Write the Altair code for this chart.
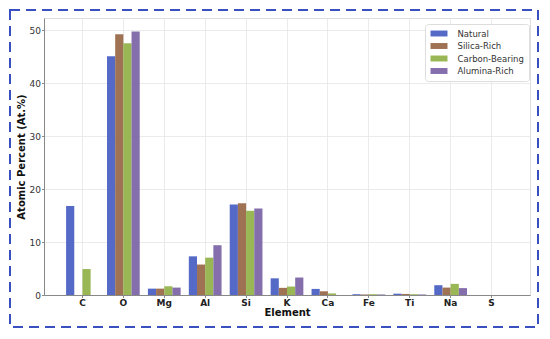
import altair as alt
import pandas as pd

elements = ["C", "O", "Mg", "Al", "Si", "K", "Ca", "Fe", "Ti", "Na", "S"]
series = ["Natural", "Silica-Rich", "Carbon-Bearing", "Alumina-Rich"]
colors = ["#4c62c4", "#9a6a4a", "#94b44c", "#7d66a8"]

natural = [16.8, 45.1, 1.2, 7.3, 17.1, 3.15, 1.15, 0.15, 0.25, 1.85, 0.0]
silica_rich = [0.0, 49.25, 1.2, 5.75, 17.3, 1.35, 0.7, 0.1, 0.2, 1.4, 0.0]
carbon_bearing = [4.9, 47.55, 1.65, 7.05, 15.9, 1.6, 0.3, 0.15, 0.15, 2.1, 0.0]
alumina_rich = [0.0, 49.75, 1.4, 9.4, 16.35, 3.3, 0.0, 0.1, 0.1, 1.3, 0.0]

y_ticks = [0, 10, 20, 30, 40, 50]

values = [natural, silica_rich, carbon_bearing, alumina_rich]
rows = []
for s, vals in zip(series, values):
    for e, v in zip(elements, vals):
        rows.append({"Element": e, "Series": s, "Value": v})
df = pd.DataFrame(rows)

FONT = "DejaVu Sans"

bars = alt.Chart(df).mark_bar(opacity=0.95).encode(
    x=alt.X(
        "Element:N",
        sort=elements,
        scale=alt.Scale(paddingInner=0.2, paddingOuter=0.54),
        axis=alt.Axis(
            title="Element",
            labelAngle=0,
            labelFontWeight="bold",
            labelFontSize=9,
            labelColor="#222",
            titleFontSize=10,
            titleFontWeight="bold",
            titleColor="#111",
            titlePadding=0,
            bandPosition=0.5,
            grid=True,
            gridColor="#e6e6e6",
            gridWidth=0.8,
            domainColor="#888",
            tickColor="#888",
            tickSize=2.5,
            labelPadding=1,
        ),
    ),
    xOffset=alt.XOffset("Series:N", sort=series),
    y=alt.Y(
        "Value:Q",
        scale=alt.Scale(domain=[0, 52.3], nice=False),
        axis=alt.Axis(
            title="Atomic Percent (At.%)",
            values=y_ticks,
            labelFontSize=9,
            labelColor="#333",
            titleFontSize=10,
            titleFontWeight="bold",
            titleColor="#111",
            titlePadding=3,
            grid=True,
            gridColor="#e6e6e6",
            gridWidth=0.8,
            domainColor="#888",
            tickColor="#888",
            tickSize=2.5,
            labelPadding=1,
        ),
    ),
    color=alt.Color(
        "Series:N",
        sort=series,
        scale=alt.Scale(domain=series, range=colors),
        legend=alt.Legend(
            title=None,
            orient="none",
            legendX=381,
            legendY=6,
            symbolType="M-2,-0.7H2V0.7H-2Z",
            symbolSize=72,
            symbolOffset=4.5,
            symbolStrokeWidth=0,
            labelOffset=14,
            labelFontSize=8.5,
            labelColor="#333",
            rowPadding=3.5,
            padding=5,
            fillColor="white",
            strokeColor="#dddddd",
            cornerRadius=3,
        ),
    ),
)

border = alt.Chart(alt.Data(values=[{}])).mark_rect(
    filled=False, stroke="#3a4fc2", strokeWidth=2, strokeDash=[10, 6]
).encode(
    x=alt.value(-34), x2=alt.value(494), y=alt.value(-8), y2=alt.value(309)
)

chart = alt.layer(bars, border).properties(
    width=486,
    height=277,
    autosize=alt.AutoSizeParams(type="none"),
    padding={"left": 36, "top": 10, "right": 12, "bottom": 36},
).configure_view(stroke=None).configure(font=FONT)

chart.save("out.html", embed_options={"renderer": "svg", "actions": False})
